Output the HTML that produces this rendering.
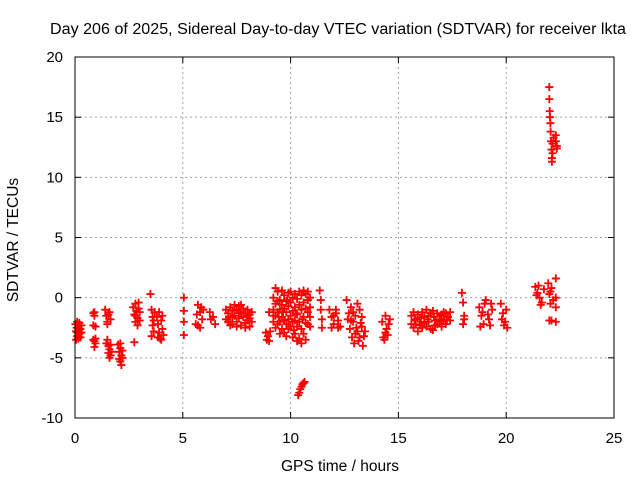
<!DOCTYPE html>
<html><head><meta charset="utf-8"><style>
html,body{margin:0;padding:0;background:#fff}
svg{display:block;font-family:"Liberation Sans",sans-serif}
</style></head><body>
<svg id="chart" width="640" height="480">
<rect width="640" height="480" fill="#fff"/>
<text x="338" y="34" font-size="15.5" text-anchor="middle" textLength="576" lengthAdjust="spacingAndGlyphs">Day 206 of 2025, Sidereal Day-to-day VTEC variation (SDTVAR) for receiver lkta</text>
<text x="340" y="471" font-size="15.5" text-anchor="middle">GPS time / hours</text>
<text transform="translate(18,240) rotate(-90)" font-size="15.5" text-anchor="middle">SDTVAR / TECUs</text>
<g id="grid"></g><g id="ticks"></g><g id="pts"></g>
<rect x="75" y="57" width="539" height="361" fill="none" stroke="#000" stroke-width="1"/>
</svg>
<script>
const xTicks=[0,5,10,15,20,25];
const yTicks=[-10,-5,0,5,10,15,20];
// [GPS hour, SDTVAR] samples
const early=[[0.02,-2.2],[0.05,-2.8],[0.05,-3.5],[0.08,-2.5],[0.1,-2.0],[0.1,-3.2],[0.12,-2.9],[0.15,-2.4],[0.15,-3.4],[0.18,-2.7],[0.2,-2.1],[0.2,-3.0],[0.25,-2.6],[0.25,-3.3],[0.3,-2.3],[0.3,-2.9],
[0.85,-1.3],[0.85,-2.3],[0.9,-1.5],[0.9,-3.6],[0.9,-4.1],[0.95,-2.4],[0.95,-3.8],[0.85,-3.5],[0.9,-1.2],[0.95,-3.4],
[1.4,-1.0],[1.45,-1.5],[1.5,-2.0],[1.5,-3.5],[1.55,-4.0],[1.55,-4.6],[1.6,-1.2],[1.6,-4.3],[1.6,-5.0],[1.65,-1.8],[1.65,-4.8],[1.5,-2.2],[1.7,-4.5],[1.45,-3.8],[1.55,-1.4],[1.65,-3.9],
[2.0,-3.9],[2.05,-4.5],[2.1,-4.2],[2.1,-5.3],[2.15,-4.8],[2.15,-5.6],[2.2,-4.4],[2.05,-5.1],[2.1,-3.8],[2.2,-5.0],
[2.7,-0.8],[2.75,-1.4],[2.8,-0.5],[2.8,-2.0],[2.85,-1.1],[2.9,-1.7],[2.9,-2.3],[2.95,-0.9],[3.0,-1.2],[2.75,-3.7],[2.8,-1.5],[2.95,-0.4],[3.0,-1.9],
[3.5,0.3],[3.55,-1.0],[3.6,-1.6],[3.6,-2.3],[3.65,-2.8],[3.7,-1.2],[3.55,-3.2],[3.8,-1.6],[3.85,-2.2],[3.9,-2.9],[3.95,-3.4],[4.0,-1.9],[4.05,-2.6],[4.1,-3.1],[3.9,-1.2],[4.0,-3.5],[3.65,-1.9],[3.85,-3.3],[4.05,-1.5],
[5.05,0.0],[5.05,-1.1],[5.05,-2.0],[5.05,-3.1],
[5.6,-2.2],[5.7,-0.6],[5.8,-1.2],[5.9,-1.8],[5.95,-1.0],[5.7,-2.3],[5.8,-2.5],[5.65,-1.4],[5.85,-0.8],[6.25,-1.2],[6.4,-1.6],[6.5,-2.2],[6.3,-1.8],
[7.0,-1.0],[7.0,-1.8],[7.1,-1.3],[7.1,-2.0],[7.2,-0.8],[7.2,-1.6],[7.3,-1.1],[7.3,-2.2],[7.4,-0.6],[7.4,-1.5],[7.5,-1.0],[7.5,-2.0],[7.6,-0.7],[7.6,-1.7],[7.7,-1.2],[7.7,-2.3],[7.8,-0.9],[7.8,-1.6],[7.9,-1.3],[7.9,-2.1],[8.0,-1.0],[8.0,-1.9],[8.1,-1.4],[8.1,-2.4],[8.2,-1.2],[8.2,-2.0],[7.3,-1.6],[7.5,-2.4],[7.7,-0.6],[7.9,-2.5],[8.1,-1.7],[7.2,-2.3],[7.6,-1.3],[8.0,-1.5],
[8.85,-2.9],[8.9,-3.5],[8.95,-3.2],[9.0,-3.6],[9.05,-2.8],[9.0,-1.2]];
const midday=[[9.2,0.0],[9.2,-1.0],[9.2,-2.0],[9.2,-1.5],[9.3,0.8],[9.3,-0.5],[9.3,-1.5],[9.3,-2.5],[9.4,0.5],[9.4,-0.3],[9.4,-1.2],[9.4,-2.2],[9.5,-0.2],[9.5,-1.0],[9.5,-2.0],[9.5,-3.0],
[9.6,0.6],[9.6,-0.6],[9.6,-1.6],[9.6,-2.6],[9.7,0.2],[9.7,-0.9],[9.7,-1.9],[9.7,-2.9],[9.8,-0.3],[9.8,-1.2],[9.8,-2.2],[9.8,-3.2],[9.9,0.4],[9.9,-0.7],[9.9,-1.8],[9.9,-2.6],
[10.0,0.5],[10.0,-0.4],[10.0,-1.5],[10.0,-2.4],[10.1,0.0],[10.1,-1.1],[10.1,-2.0],[10.1,-3.3],[10.2,0.3],[10.2,-0.8],[10.2,-1.9],[10.2,-3.0],[10.3,-0.1],[10.3,-1.4],[10.3,-2.4],[10.3,-3.6],
[10.4,0.5],[10.4,-0.6],[10.4,-2.0],[10.4,-3.4],[10.5,0.2],[10.5,-1.0],[10.5,-2.6],[10.5,-3.8],[10.6,0.6],[10.6,-0.4],[10.6,-1.6],[10.6,-3.0],[10.7,0.3],[10.7,-0.9],[10.7,-2.1],[10.7,-3.5],
[10.8,0.5],[10.8,-0.2],[10.8,-1.2],[10.8,-2.2],[10.9,0.0],[10.9,-0.8],[10.9,-1.6],[10.9,-2.4],[9.45,-1.6],[9.85,-0.2],[10.25,-1.3],[10.55,-1.8],[10.15,-2.7],[9.65,-1.2],
[10.35,-8.1],[10.4,-7.9],[10.45,-7.6],[10.5,-7.4],[10.55,-7.2],[10.6,-7.1],[10.65,-7.0],
[11.35,0.6],[11.4,-0.2],[11.4,-1.0],[11.45,-1.8],[11.45,-2.5],[11.8,-1.0],[11.9,-1.6],[12.0,-2.2],[12.1,-1.3],[12.2,-1.9],[12.3,-2.4],[11.9,-2.5],[12.1,-1.0],[12.0,-1.5],[12.2,-2.5],
[12.6,-0.2],[12.65,-1.8],[12.7,-1.3],[12.75,-2.6],[12.8,-0.8],[12.85,-3.3],[12.9,-2.0],[12.95,-3.8],[13.0,-1.5],[13.05,-2.5],[13.1,-2.8],[13.15,-3.6],[13.2,-1.0],[13.25,-2.1],[13.3,-2.4],[13.35,-4.0],[13.4,-3.2],[13.1,-0.5],[13.0,-3.0],[12.8,-1.9],[13.3,-1.6],[13.45,-2.8],[12.9,-1.2],[13.2,-3.3],
[14.25,-2.0],[14.3,-3.3],[14.4,-1.5],[14.45,-2.6],[14.5,-3.1],[14.6,-1.8],[14.35,-3.5],[14.55,-2.2],[14.4,-2.9]];
const late=[[15.6,-1.5],[15.6,-2.2],[15.7,-1.2],[15.7,-2.5],[15.8,-1.8],[15.8,-2.2],[15.9,-1.4],[15.9,-2.8],[16.0,-1.7],[16.0,-2.3],[16.1,-1.2],[16.1,-2.5],[16.2,-1.6],[16.2,-2.1],[16.3,-1.0],[16.3,-2.4],
[16.4,-1.5],[16.4,-2.0],[16.5,-1.3],[16.5,-2.6],[16.6,-1.1],[16.6,-2.7],[16.7,-1.9],[16.7,-2.3],[16.8,-1.3],[16.8,-2.2],[16.9,-1.8],[16.9,-2.0],[17.0,-1.4],[17.0,-2.4],[17.1,-1.2],[17.1,-1.9],
[17.2,-1.3],[17.2,-2.2],[17.3,-1.6],[17.4,-1.2],[17.4,-1.9],[15.75,-1.9],[16.05,-2.0],[16.35,-1.8],[16.65,-1.6],[16.95,-1.5],[17.25,-1.8],
[17.95,0.4],[18.0,-0.4],[18.05,-1.5],[18.0,-2.2],[18.05,-1.8],
[18.75,-0.8],[18.85,-1.5],[18.95,-2.2],[19.05,-0.2],[19.15,-1.4],[19.25,-2.3],[19.35,-1.0],[18.8,-2.4],[19.0,-0.5],[19.2,-1.8],[18.9,-1.2],[19.3,-0.5],
[19.75,-0.5],[19.85,-1.3],[19.95,-2.0],[20.05,-2.5],[19.8,-1.8],[20.0,-1.0],[19.9,-2.3],
[21.35,0.9],[21.45,0.4],[21.55,0.0],[21.65,-0.4],[21.75,0.7],[21.5,1.0],[21.6,-0.6],[21.4,0.2],
[21.95,1.2],[22.0,0.3],[22.0,-1.9],[22.05,-0.5],[22.05,0.5],[22.1,-1.9],[22.1,0.8],[22.0,17.5],[22.0,16.5],[22.02,15.5],[22.03,15.0],[22.05,14.5],[22.06,13.8],[22.08,13.0],[22.1,12.3],[22.12,11.6],[22.12,11.3],[22.15,12.0],[22.15,12.8],[22.2,13.3],[22.18,-0.2],
[22.3,1.6],[22.3,0.0],[22.3,-0.8],[22.3,-2.0],[22.3,13.5],[22.35,12.6],[22.3,13.0],[22.35,12.4]];
const X=t=>75+t*539/25, Y=v=>418-(v+10)*361/30;
const ns='http://www.w3.org/2000/svg';
const grid=document.getElementById('grid'),tk=document.getElementById('ticks'),pts=document.getElementById('pts');
function mk(p,tag,a){const e=document.createElementNS(ns,tag);for(const k in a)e.setAttribute(k,a[k]);p.appendChild(e);return e;}
xTicks.forEach(t=>{
 const x=X(t);
 if(t>0&&t<25){const g=mk(grid,'line',{x1:x,x2:x,y1:57,y2:418,stroke:'#a0a0a0','stroke-dasharray':'2,3'});
 
 }
 mk(tk,'line',{x1:x,x2:x,y1:418,y2:412,stroke:'#000'});
 mk(tk,'line',{x1:x,x2:x,y1:57,y2:63,stroke:'#000'});
 const l=mk(tk,'text',{x:x,y:443,'font-size':15,'text-anchor':'middle'});l.textContent=t;
 
 
});
yTicks.forEach(v=>{
 const y=Y(v);
 if(v>-10&&v<20){const g=mk(grid,'line',{x1:75,x2:614,y1:y,y2:y,stroke:'#a0a0a0','stroke-dasharray':'2,3'});
 
 }
 mk(tk,'line',{x1:75,x2:81,y1:y,y2:y,stroke:'#000'});
 mk(tk,'line',{x1:608,x2:614,y1:y,y2:y,stroke:'#000'});
 const l=mk(tk,'text',{x:63,y:y+5,'font-size':15,'text-anchor':'end'});l.textContent=v;
 
 
});
[early,midday,late].forEach(series=>series.forEach(([t,v])=>{
 const x=X(t),y=Y(v);
 const p=mk(pts,'path',{d:`M${x-4},${y}h8M${x},${y-4}v8`,stroke:'#f00','stroke-width':1.8,fill:'none'});
 
 
}));
</script>
</body></html>
